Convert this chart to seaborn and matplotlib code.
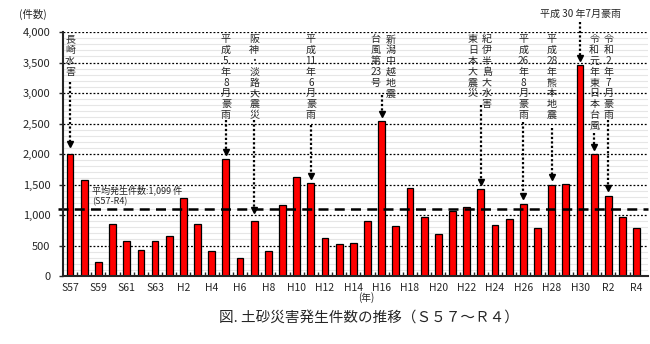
import matplotlib
matplotlib.use("Agg")
import matplotlib.pyplot as plt
import seaborn as sns
import pandas as pd

# Fiscal-year labels (Showa 57 .. Reiwa 4)
years = (["S57", "S58", "S59", "S60", "S61", "S62", "S63"]
         + [f"H{i}" for i in range(1, 31)]
         + ["R1", "R2", "R3", "R4"])

# Landslide disaster counts per year
counts = [2001, 1575, 227, 846, 567, 425, 578, 660, 1272, 847, 409, 1913, 287,
          894, 414, 1163, 1626, 1518, 618, 517, 546, 907, 2537, 813, 1441, 966,
          695, 1058, 1128, 1422, 837, 941, 1184, 788, 1492, 1514, 3459, 1996,
          1319, 972, 795]

average = 1099
yticks = [0, 500, 1000, 1500, 2000, 2500, 3000, 3500, 4000]

# Event notes: year, columns of vertical text (top to bottom), column pixel offsets
events = [
    ("S57", [["長", "崎", "水", "害"]], [0]),
    ("H5", [["平", "成", "5", "年", "8", "月", "豪", "雨"]], [0]),
    ("H7", [["阪", "神", "・", "淡", "路", "大", "震", "災"]], [0]),
    ("H11", [["平", "成", "11", "年", "6", "月", "豪", "雨"]], [0]),
    ("H16", [["台", "風", "第", "23", "号"], ["新", "潟", "中", "越", "地", "震"]], [-6, 9]),
    ("H23", [["東", "日", "本", "大", "震", "災"], ["紀", "伊", "半", "島", "大", "水", "害"]], [-8, 6]),
    ("H26", [["平", "成", "26", "年", "8", "月", "豪", "雨"]], [0]),
    ("H28", [["平", "成", "28", "年", "熊", "本", "地", "震"]], [0]),
    ("R1", [["令", "和", "元", "年", "東", "日", "本", "台", "風"]], [0]),
    ("R2", [["令", "和", "2", "年", "7", "月", "豪", "雨"]], [0]),
]
# Arrow start (data units) and gap above the bar for each note
arrow_start = {"S57": 3180, "H5": 2560, "H7": 2560, "H11": 2470, "H16": 2970,
               "H23": 2800, "H26": 2520, "H28": 2430, "R1": 2340, "R2": 2560}
arrow_gap = {"S57": 100, "H7": 140}

sns.set_style("white")
plt.rcParams["font.family"] = ["Noto Sans CJK JP", "DejaVu Sans"]

df = pd.DataFrame({"year": years, "count": counts})

fig = plt.figure(figsize=(6.5, 3.44), dpi=100)
ax = fig.add_axes([63 / 650, 1 - 276 / 344, (648 - 63) / 650, (276 - 32) / 344])

# light minor grid every 100
for v in range(100, 4000, 100):
    if v % 500:
        ax.axhline(v, color="#e6e6e6", lw=0.8, zorder=0)
# dotted major grid
for v in yticks[1:]:
    ax.axhline(v, color="black", lw=0.9, ls=(0, (1.5, 1.5)), zorder=1)

sns.barplot(data=df, x="year", y="count", order=years, color="#ff0000",
            saturation=1, width=0.48, edgecolor="black", linewidth=0.9,
            ax=ax, zorder=3)

ax.set_xlim(-0.5, 40.8)
ax.set_ylim(0, 4000)

# average line
ax.axhline(average, xmin=-0.008, xmax=1, color="black", lw=1.8,
           ls=(0, (4, 2.5)), zorder=4, clip_on=False)
ax.text(1.55, 1410, f"平均発生件数:{average:,} 件", fontsize=6.5, va="center",
        ha="left", zorder=5)
ax.text(1.55, 1213, "(S57-R4)", fontsize=6.5, va="center", ha="left", zorder=5)

# axes styling
for s in ["top", "right"]:
    ax.spines[s].set_visible(False)
ax.spines["left"].set_linewidth(1.5)
ax.spines["bottom"].set_linewidth(1.5)
ax.spines["left"].set_zorder(6)
ax.spines["bottom"].set_zorder(6)

ax.set_yticks(yticks)
ax.set_yticklabels([f"{v:,}" for v in yticks], fontsize=8)
ax.tick_params(axis="y", direction="out", length=3, width=1, pad=6, left=True)

major = list(range(0, len(years), 2))
ax.set_xticks(major)
ax.set_xticklabels([years[i] for i in major], fontsize=7.5)
ax.set_xticks([i + 0.5 for i in range(len(years) - 1)], minor=True)
ax.tick_params(axis="x", which="major", length=0, pad=5)
ax.tick_params(axis="x", which="minor", direction="in", length=3, width=1,
               bottom=True)
ax.set_xlabel("")
ax.set_ylabel("")

# event annotations
line_px = 10.8
for yr, columns, offs in events:
    xi = years.index(yr)
    for col, dx in zip(columns, offs):
        for k, ch in enumerate(col):
            ax.annotate(ch, xy=(xi, 3960), xycoords="data",
                        xytext=(dx, -k * line_px), textcoords="offset pixels",
                        ha="center", va="top", fontsize=7.2, zorder=7)
    top = counts[xi] + arrow_gap.get(yr, 70)
    ax.plot([xi, xi], [arrow_start[yr], top + 80], color="black", lw=1.6,
            ls=(0, (1, 1)), zorder=7)
    ax.plot([xi], [top + 55], marker="v", color="black", markersize=5, zorder=7)

# Heavy rain of July 2018, label above the plot
xi = years.index("H30")
ax.text(xi, 4295, "平成 30 年7月豪雨", ha="center", va="center", fontsize=7.2,
        clip_on=False)
top = counts[xi] + 65
ax.plot([xi, xi], [4165, top + 80], color="black", lw=1.6, ls=(0, (1, 1)),
        zorder=7, clip_on=False)
ax.plot([xi], [top + 55], marker="v", color="black", markersize=5, zorder=7)

fig.text(33 / 650, 1 - 14 / 344, "(件数)", ha="center", va="center", fontsize=7.5)
fig.text(366 / 650, 1 - 298 / 344, "(年)", ha="center", va="center", fontsize=7)
fig.text(369 / 650, 1 - 318 / 344, "図. 土砂災害発生件数の推移（Ｓ５７～Ｒ４）",
         ha="center", va="center", fontsize=10.5)

fig.savefig("out.png", dpi=100)
